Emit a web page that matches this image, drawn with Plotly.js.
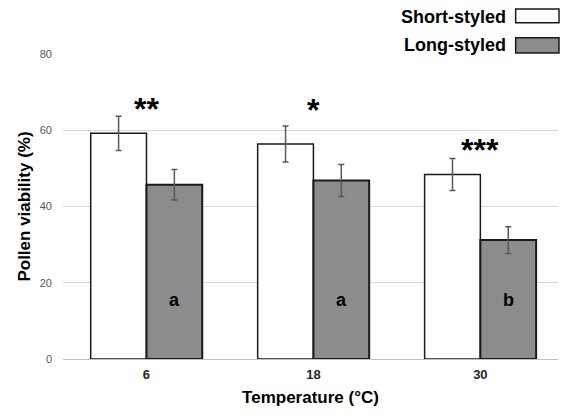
<!DOCTYPE html>
<html>
<head>
<meta charset="utf-8">
<script src="https://cdn.plot.ly/plotly-3.0.1.min.js"></script>
<style>html,body{margin:0;padding:0;background:#fff;}#chart{width:562px;height:416px;}</style>
</head>
<body>
<div id="chart"></div>
<script>
const categories = ["6", "18", "30"];
const shortValues = [59.2, 56.4, 48.4];
const shortErrors = [4.5, 4.7, 4.2];
const longValues = [45.7, 46.8, 31.2];
const longErrors = [4.0, 4.2, 3.5];
const seriesNames = ["Short-styled", "Long-styled"];
const starLabels = ["**", "*", "***"];
const starHeights = [65.6, 65.4, 54.9];
const letterLabels = ["a", "a", "b"];
const letterHeight = 15.4;
const yTicks = [0, 20, 40, 60, 80];

const FONT = "Arial, 'Liberation Sans', sans-serif";

const errStyle = {type: "data", visible: true, color: "#595959", thickness: 1.5, width: 3};

const traces = [
  {type: "bar", name: seriesNames[0], x: categories, y: shortValues,
   error_y: Object.assign({array: shortErrors}, errStyle),
   marker: {color: "#ffffff", line: {color: "#1a1a1a", width: 1.5}}, showlegend: false},
  {type: "bar", name: seriesNames[1], x: categories, y: longValues,
   error_y: Object.assign({array: longErrors}, errStyle),
   marker: {color: "#8c8c8c", line: {color: "#1a1a1a", width: 2}}, showlegend: false}
];

const annotations = [];
categories.forEach((c, i) => {
  annotations.push({x: i, y: starHeights[i], xref: "x", yref: "y", text: starLabels[i],
    showarrow: false, xanchor: "center", yanchor: "middle",
    font: {family: FONT, size: 32, color: "#000", weight: "bold"}});
  annotations.push({x: i, y: letterHeight, xref: "x", yref: "y", xshift: 28, text: letterLabels[i],
    showarrow: false, xanchor: "center", yanchor: "middle",
    font: {family: FONT, size: 18, color: "#000", weight: "bold"}});
});
annotations.push({x: 0.899, y: 1.121, xref: "paper", yref: "paper", text: seriesNames[0],
  showarrow: false, xanchor: "right", yanchor: "middle",
  font: {family: FONT, size: 18, color: "#000", weight: "bold"}});
annotations.push({x: 0.899, y: 1.0295, xref: "paper", yref: "paper", text: seriesNames[1],
  showarrow: false, xanchor: "right", yanchor: "middle",
  font: {family: FONT, size: 18, color: "#000", weight: "bold"}});

const shapes = [
  {type: "rect", xref: "paper", yref: "paper", x0: 0.9145, x1: 1.002, y0: 1.1026, y1: 1.1475,
   fillcolor: "#ffffff", line: {color: "#1a1a1a", width: 1.5}},
  {type: "rect", xref: "paper", yref: "paper", x0: 0.9145, x1: 1.002, y0: 1.0034, y1: 1.0534,
   fillcolor: "#8c8c8c", line: {color: "#1a1a1a", width: 1.5}}
];

const layout = {
  width: 562, height: 416,
  margin: {l: 63, r: 4, t: 54, b: 57},
  paper_bgcolor: "#ffffff", plot_bgcolor: "#ffffff",
  barmode: "group", bargap: 0.332, bargroupgap: 0,
  showlegend: false,
  xaxis: {type: "category", range: [-0.5, 2.465], showgrid: false, showline: true,
    linecolor: "#bfbfbf", linewidth: 1, ticks: "", ticklen: 0, ticklabelstandoff: 3,
    tickfont: {family: FONT, size: 13, color: "#262626", weight: "bold"},
    title: {text: "Temperature (°C)", standoff: 10,
      font: {family: FONT, size: 17, color: "#000", weight: "bold"}}},
  yaxis: {range: [0, 80], tickvals: yTicks, showgrid: true, gridcolor: "#d9d9d9", gridwidth: 1,
    zeroline: false, showline: false, ticks: "", ticklen: 0, ticklabelstandoff: 10,
    tickfont: {family: FONT, size: 11, color: "#595959"},
    title: {text: "Pollen viability (%)", standoff: 4,
      font: {family: FONT, size: 17, color: "#000", weight: "bold"}}},
  annotations: annotations,
  shapes: shapes
};

Plotly.newPlot("chart", traces, layout, {displayModeBar: false, staticPlot: true});
</script>
</body>
</html>
